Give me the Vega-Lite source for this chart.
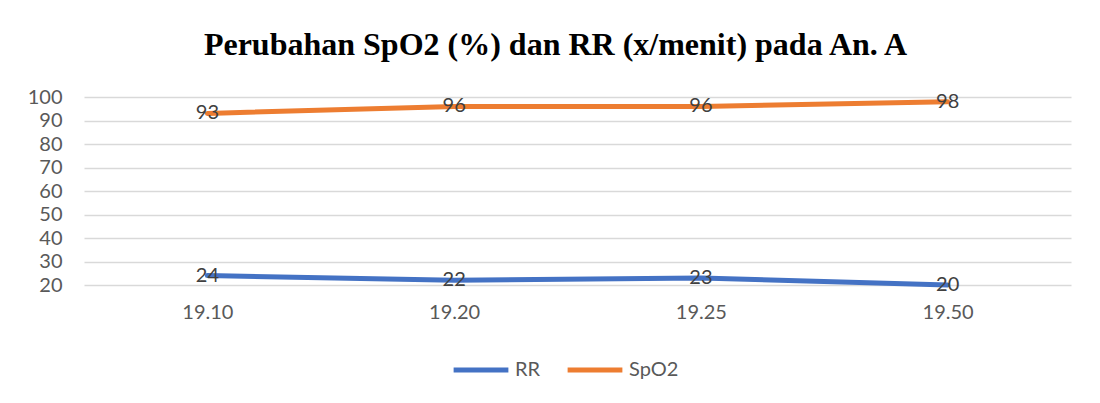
{
  "$schema": "https://vega.github.io/schema/vega-lite/v6.json",
  "width": 987,
  "height": 188,
  "padding": {"left": 27, "top": 29, "right": 28, "bottom": 10},
  "background": "white",
  "title": {
    "text": "Perubahan SpO2 (%) dan RR (x/menit) pada An. A",
    "font": "Liberation Serif",
    "fontWeight": "bold",
    "fontSize": 32,
    "color": "#000000",
    "offset": 25,
    "dx": -22
  },
  "config": {
    "view": {"stroke": null},
    "font": "Lato"
  },
  "data": {
    "values": [
      {"time": "19.10", "series": "RR", "value": 24},
      {"time": "19.20", "series": "RR", "value": 22},
      {"time": "19.25", "series": "RR", "value": 23},
      {"time": "19.50", "series": "RR", "value": 20},
      {"time": "19.10", "series": "SpO2", "value": 93},
      {"time": "19.20", "series": "SpO2", "value": 96},
      {"time": "19.25", "series": "SpO2", "value": 96},
      {"time": "19.50", "series": "SpO2", "value": 98}
    ]
  },
  "encoding": {
    "x": {
      "field": "time",
      "type": "ordinal",
      "scale": {"type": "point", "padding": 0.5},
      "axis": {
        "title": null,
        "labelAngle": 0,
        "labelFont": "Lato",
        "labelFontSize": 20,
        "labelColor": "#595959",
        "domain": false,
        "ticks": false,
        "grid": false,
        "labelPadding": 17
      }
    },
    "y": {
      "field": "value",
      "type": "quantitative",
      "scale": {"domain": [20, 100], "nice": false, "zero": false},
      "axis": {
        "title": null,
        "values": [20, 30, 40, 50, 60, 70, 80, 90, 100],
        "labelFont": "Lato",
        "labelFontSize": 20,
        "labelColor": "#595959",
        "domain": false,
        "ticks": false,
        "labelPadding": 22,
        "gridColor": "#D9D9D9",
        "gridWidth": 1.5
      }
    }
  },
  "layer": [
    {
      "mark": {"type": "line", "strokeWidth": 5, "strokeCap": "round"},
      "encoding": {
        "color": {
          "field": "series",
          "type": "nominal",
          "scale": {"domain": ["RR", "SpO2"], "range": ["#4472C4", "#ED7D31"]},
          "legend": {
            "title": null,
            "orient": "none",
            "legendX": 367,
            "legendY": 243,
            "direction": "horizontal",
            "symbolType": "stroke",
            "symbolSize": 3000,
            "symbolStrokeWidth": 5,
            "labelFont": "Lato",
            "labelFontSize": 20,
            "labelColor": "#595959",
            "columnPadding": 16,
            "labelOffset": 4
          }
        }
      }
    },
    {
      "mark": {"type": "text", "fontSize": 20, "font": "Lato", "color": "#404040", "align": "center", "baseline": "middle"},
      "encoding": {
        "text": {"field": "value", "type": "quantitative"}
      }
    }
  ]
}
